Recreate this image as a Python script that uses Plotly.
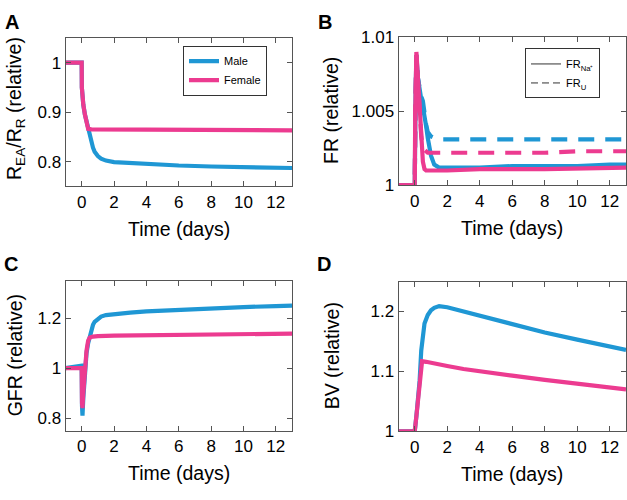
import plotly.graph_objects as go

BLUE = "#1f97d4"
PINK = "#ec3b90"
AX = "#555555"
FONT = "Liberation Sans, Arial, Helvetica, sans-serif"

# ---------------- Panel A : R_EA/R_R ----------------
tA_male = [-1, 0, 0.01, 0.05, 0.1, 0.2, 0.3, 0.4, 0.5, 0.6, 0.7, 0.8, 1.0, 1.2, 1.5, 2, 3, 4, 6, 8, 10, 12, 13]
A_male = [1, 1, 0.95, 0.93, 0.915, 0.895, 0.88, 0.865, 0.85, 0.838, 0.828, 0.82, 0.811, 0.806, 0.802, 0.799, 0.797, 0.795, 0.792, 0.790, 0.789, 0.788, 0.787]
tA_female = [-1, 0, 0.01, 0.05, 0.1, 0.2, 0.3, 0.4, 0.6, 1, 2, 4, 8, 13]
A_female = [1, 1, 0.95, 0.93, 0.915, 0.895, 0.877, 0.866, 0.865, 0.865, 0.865, 0.864, 0.864, 0.863]

# ---------------- Panel B : FR ----------------
tB_male_na = [-1, 0, 0.05, 0.1, 0.15, 0.2, 0.3, 0.4, 0.5, 0.6, 0.7, 0.8, 0.9, 1.0, 1.2, 1.5, 2, 4, 6, 8, 10, 12, 13]
B_male_na = [1, 1, 1.006, 1.0088, 1.008, 1.0072, 1.0063, 1.0058, 1.0053, 1.0048, 1.004, 1.0032, 1.0025, 1.002, 1.0014, 1.0012, 1.0012, 1.0012, 1.0013, 1.0013, 1.0013, 1.0014, 1.0014]
tB_male_u = [-1, 0, 0.05, 0.1, 0.15, 0.2, 0.3, 0.4, 0.5, 0.6, 0.7, 0.8, 1.0, 1.2, 1.5, 2, 4, 6, 8, 10, 12, 13]
B_male_u = [1, 1, 1.006, 1.0088, 1.008, 1.0072, 1.0064, 1.006, 1.0057, 1.0048, 1.0041, 1.0036, 1.0033, 1.0032, 1.0031, 1.0031, 1.0031, 1.0031, 1.0031, 1.0031, 1.0031, 1.0031]
tB_female_na = [-1, 0, 0.03, 0.06, 0.1, 0.2, 0.3, 0.4, 0.5, 0.6, 0.7, 1, 2, 4, 8, 13]
B_female_na = [1, 1, 1.005, 1.0085, 1.009, 1.0072, 1.005, 1.003, 1.0016, 1.0011, 1.001, 1.001, 1.001, 1.0011, 1.0011, 1.0012]
tB_female_u = [-1, 0, 0.05, 0.1, 0.2, 0.3, 0.4, 0.5, 0.6, 0.8, 1, 1.5, 2, 4, 6, 8, 10, 12, 13]
B_female_u = [1, 1, 1.006, 1.0088, 1.007, 1.005, 1.0033, 1.0026, 1.0024, 1.0022, 1.0022, 1.0022, 1.0022, 1.0022, 1.0022, 1.0022, 1.0023, 1.0023, 1.0023]

# ---------------- Panel C : GFR ----------------
tC_male = [-1, 0, 0.02, 0.05, 0.1, 0.2, 0.3, 0.4, 0.5, 0.6, 0.7, 0.8, 1, 1.2, 1.5, 2, 3, 4, 6, 8, 10, 12, 13]
C_male = [1, 1.01, 0.85, 0.81, 0.88, 0.99, 1.06, 1.1, 1.13, 1.155, 1.173, 1.185, 1.198, 1.206, 1.212, 1.216, 1.222, 1.227, 1.234, 1.239, 1.244, 1.248, 1.25]
tC_female = [-1, 0, 0.02, 0.05, 0.1, 0.2, 0.3, 0.4, 0.5, 0.7, 1, 2, 4, 8, 13]
C_female = [1, 1, 0.86, 0.84, 0.9, 1.0, 1.07, 1.11, 1.122, 1.126, 1.128, 1.13, 1.132, 1.135, 1.138]

# ---------------- Panel D : BV ----------------
tD_male = [-1, 0, 0.1, 0.2, 0.3, 0.4, 0.5, 0.6, 0.8, 1.0, 1.2, 1.5, 2, 3, 4, 5, 6, 8, 10, 12, 13]
D_male = [1, 1, 1.025, 1.05, 1.085, 1.135, 1.163, 1.18, 1.194, 1.202, 1.206, 1.209, 1.207, 1.2, 1.192, 1.185, 1.178, 1.165, 1.153, 1.142, 1.136]
tD_female = [-1, 0, 0.1, 0.2, 0.3, 0.45, 0.7, 1, 2, 3, 4, 6, 8, 10, 12, 13]
D_female = [1, 1, 1.025, 1.05, 1.08, 1.117, 1.116, 1.114, 1.109, 1.104, 1.1, 1.093, 1.086, 1.08, 1.074, 1.07]

x_ticks = [0, 2, 4, 6, 8, 10, 12]
yA_ticks = [0.8, 0.9, 1]
yA_text = ["0.8", "0.9", "1"]
yB_ticks = [1, 1.005, 1.01]
yB_text = ["1", "1.005", "1.01"]
yC_ticks = [0.8, 1, 1.2]
yC_text = ["0.8", "1", "1.2"]
yD_ticks = [1, 1.1, 1.2]
yD_text = ["1", "1.1", "1.2"]

W, H = 627, 500
def px_x(v):
    return v / W
def px_y(v):
    return 1 - v / H

LW = 4.2
fig = go.Figure()

# Panel A
fig.add_trace(go.Scatter(x=tA_male, y=A_male, mode="lines", line=dict(color=BLUE, width=LW),
                         name="Male", xaxis="x", yaxis="y", legend="legend"))
fig.add_trace(go.Scatter(x=tA_female, y=A_female, mode="lines", line=dict(color=PINK, width=LW),
                         name="Female", xaxis="x", yaxis="y", legend="legend"))
# Panel B
fig.add_trace(go.Scatter(x=tB_male_na, y=B_male_na, mode="lines", line=dict(color=BLUE, width=LW),
                         showlegend=False, xaxis="x2", yaxis="y2"))
fig.add_trace(go.Scatter(x=tB_male_u, y=B_male_u, mode="lines", line=dict(color=BLUE, width=LW, dash="16px,11px"),
                         showlegend=False, xaxis="x2", yaxis="y2"))
fig.add_trace(go.Scatter(x=tB_female_na, y=B_female_na, mode="lines", line=dict(color=PINK, width=LW),
                         showlegend=False, xaxis="x2", yaxis="y2"))
fig.add_trace(go.Scatter(x=tB_female_u, y=B_female_u, mode="lines", line=dict(color=PINK, width=LW, dash="16px,11px"),
                         showlegend=False, xaxis="x2", yaxis="y2"))
fig.add_trace(go.Scatter(x=[None], y=[None], mode="lines", line=dict(color="#333333", width=1),
                         name="FR<sub>Na⁺</sub>", xaxis="x2", yaxis="y2", legend="legend2"))
fig.add_trace(go.Scatter(x=[None], y=[None], mode="lines", line=dict(color="#333333", width=1, dash="7px,4px"),
                         name="FR<sub>U</sub>", xaxis="x2", yaxis="y2", legend="legend2"))
# Panel C
fig.add_trace(go.Scatter(x=tC_male, y=C_male, mode="lines", line=dict(color=BLUE, width=LW),
                         showlegend=False, xaxis="x3", yaxis="y3"))
fig.add_trace(go.Scatter(x=tC_female, y=C_female, mode="lines", line=dict(color=PINK, width=LW),
                         showlegend=False, xaxis="x3", yaxis="y3"))
# Panel D
fig.add_trace(go.Scatter(x=tD_male, y=D_male, mode="lines", line=dict(color=BLUE, width=LW),
                         showlegend=False, xaxis="x4", yaxis="y4"))
fig.add_trace(go.Scatter(x=tD_female, y=D_female, mode="lines", line=dict(color=PINK, width=LW),
                         showlegend=False, xaxis="x4", yaxis="y4"))

common = dict(showline=True, mirror="ticks", linecolor=AX, linewidth=1, ticks="inside", ticklen=5,
              tickcolor=AX, showgrid=False, zeroline=False, tickfont=dict(size=17, color="black", family=FONT))

xl, xr = px_x(65.5), px_x(292)
xl2, xr2 = px_x(398.5), px_x(626)

fig.update_layout(
    width=W, height=H, margin=dict(l=0, r=0, t=0, b=0),
    paper_bgcolor="white", plot_bgcolor="white",
    font=dict(family=FONT, color="black"),
    xaxis=dict(domain=[xl, xr], anchor="y", range=[-1, 13], tickvals=x_ticks, **common),
    yaxis=dict(domain=[px_y(184.3), px_y(30)], anchor="x", range=[0.75, 1.05], tickvals=yA_ticks, ticktext=yA_text, **common),
    xaxis2=dict(domain=[xl2, xr2], anchor="y2", range=[-1, 13], tickvals=x_ticks, **common),
    yaxis2=dict(domain=[px_y(183.3), px_y(29.3)], anchor="x2", range=[1, 1.01], tickvals=yB_ticks, ticktext=yB_text, **common),
    xaxis3=dict(domain=[xl, xr], anchor="y3", range=[-1, 13], tickvals=x_ticks, **common),
    yaxis3=dict(domain=[px_y(438.3), px_y(282.3)], anchor="x3", range=[0.75, 1.35], tickvals=yC_ticks, ticktext=yC_text, **common),
    xaxis4=dict(domain=[xl2, xr2], anchor="y4", range=[-1, 13], tickvals=x_ticks, **common),
    yaxis4=dict(domain=[px_y(439), px_y(283.3)], anchor="x4", range=[1, 1.25], tickvals=yD_ticks, ticktext=yD_text, **common),
    legend=dict(x=px_x(183), y=px_y(38), xanchor="left", yanchor="top", bordercolor="#333333", borderwidth=1,
                bgcolor="white", font=dict(size=11, family=FONT), tracegroupgap=0),
    legend2=dict(x=px_x(525), y=px_y(41), xanchor="left", yanchor="top", bordercolor="#333333", borderwidth=1,
                 bgcolor="white", font=dict(size=11, family=FONT), tracegroupgap=0),
)

ann = []
# panel labels
for lab, x, y in [("A", 3, 14), ("B", 316, 14), ("C", 2, 265), ("D", 315, 265)]:
    ann.append(dict(text="<b>%s</b>" % lab, x=px_x(x), y=px_y(y), xref="paper", yref="paper",
                    xanchor="left", yanchor="middle", showarrow=False, font=dict(size=20, family=FONT)))
# x titles
for xc, y in [((65.5 + 292) / 2, 229), ((398.5 + 626) / 2, 228), ((65.5 + 292) / 2, 482), ((398.5 + 626) / 2, 483)]:
    ann.append(dict(text="Time (days)", x=px_x(xc), y=px_y(y), xref="paper", yref="paper",
                    xanchor="center", yanchor="middle", showarrow=False, font=dict(size=19.5, family=FONT)))
# y titles
for txt, x, y in [("R<sub>EA</sub>/R<sub>R</sub> (relative)", 15, 104), ("FR (relative)", 331, 106),
                  ("GFR (relative)", 15, 360), ("BV (relative)", 332, 360)]:
    ann.append(dict(text=txt, x=px_x(x), y=px_y(y), xref="paper", yref="paper", textangle=-90,
                    xanchor="center", yanchor="middle", showarrow=False, font=dict(size=19.5, family=FONT)))
fig.update_layout(annotations=ann)

fig.write_html("out.html", config={"displayModeBar": False},
               post_script="document.body.style.margin='0';")
